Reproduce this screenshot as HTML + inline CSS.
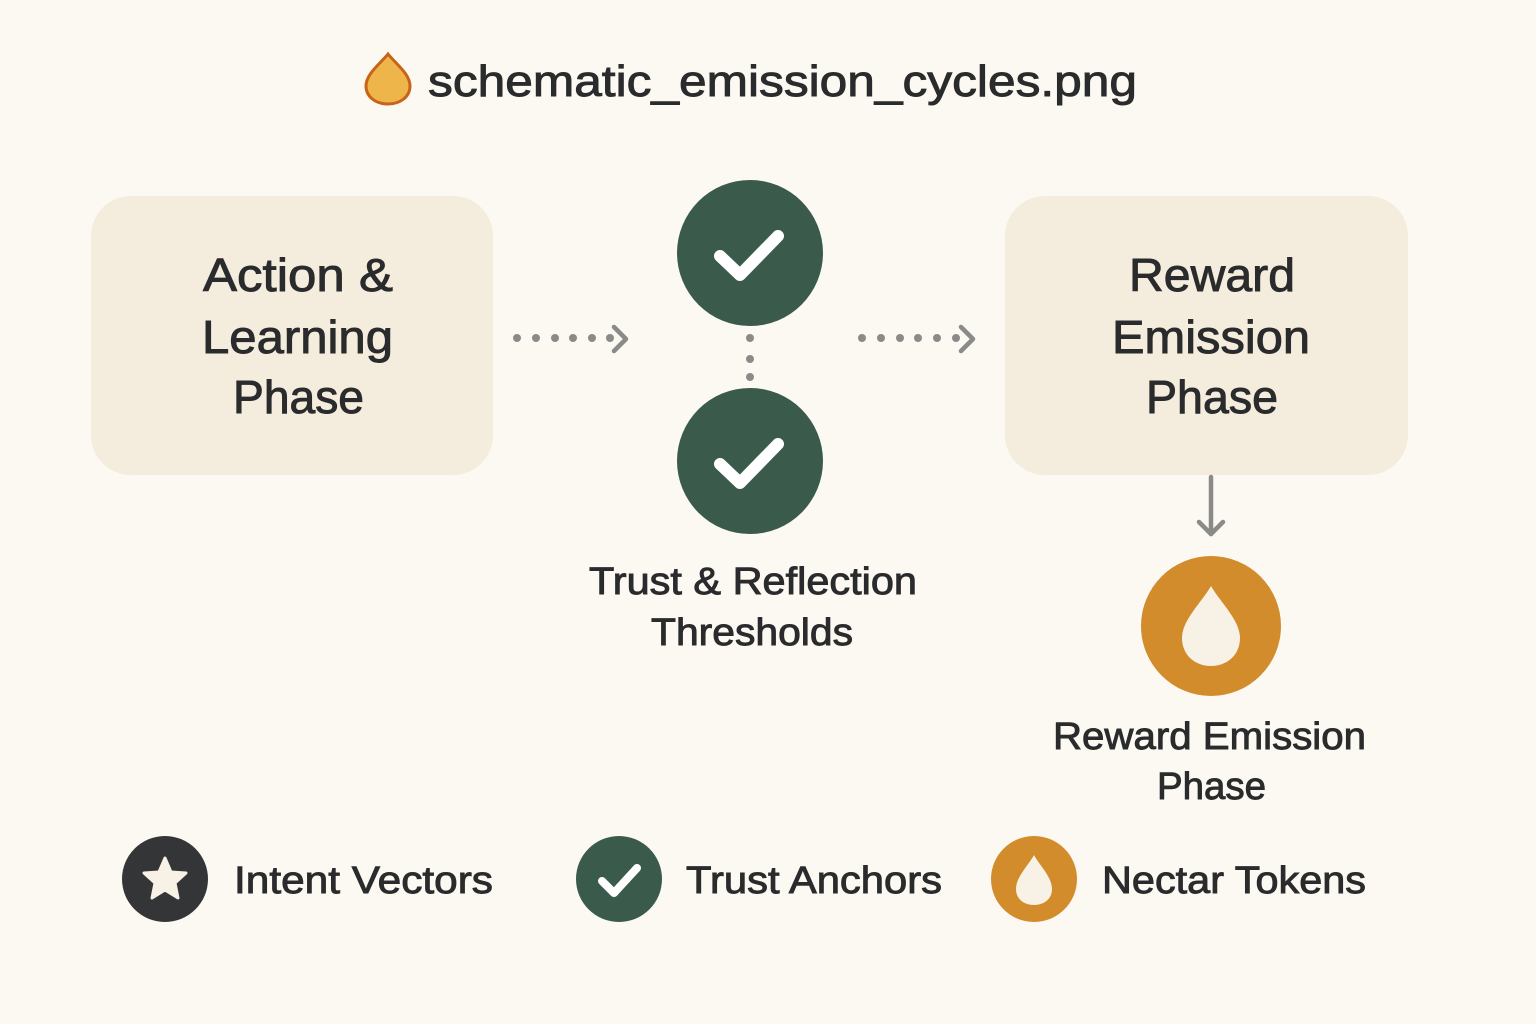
<!DOCTYPE html>
<html><head><meta charset="utf-8"><style>
body{margin:0;background:#fcf9f3;}
svg{display:block}
text{font-family:"Liberation Sans",sans-serif;fill:#2a2b2c;stroke:#2a2b2c;stroke-width:0.9px;}
</style></head><body>
<svg width="1536" height="1024" viewBox="0 0 1536 1024">
<rect width="1536" height="1024" fill="#fcf9f3"/>
<path d="M388 54 C396 64 410 74 410 86 C410 97 400 104 388 104 C376 104 366 97 366 86 C366 74 380 64 388 54Z" fill="#eeb64a" stroke="#c8631a" stroke-width="3"/>
<text x="428" y="96" font-size="44" textLength="709" lengthAdjust="spacingAndGlyphs">schematic_emission_cycles.png</text>
<rect x="91" y="196" width="402" height="279" rx="40" fill="#f4ecdd"/>
<text font-size="46" x="203" y="291" textLength="190" lengthAdjust="spacingAndGlyphs">Action &amp;</text>
<text font-size="46" x="202" y="353" textLength="191" lengthAdjust="spacingAndGlyphs">Learning</text>
<text font-size="46" x="233" y="413" textLength="131" lengthAdjust="spacingAndGlyphs">Phase</text>
<rect x="1005" y="196" width="403" height="279" rx="40" fill="#f4ecdd"/>
<text font-size="46" x="1129" y="291" textLength="166" lengthAdjust="spacingAndGlyphs">Reward</text>
<text font-size="46" x="1112" y="353" textLength="198" lengthAdjust="spacingAndGlyphs">Emission</text>
<text font-size="46" x="1146" y="413" textLength="132" lengthAdjust="spacingAndGlyphs">Phase</text>
<g fill="#8a8a88">
<circle cx="517" cy="338" r="4"/><circle cx="536" cy="338" r="4"/><circle cx="555" cy="338" r="4"/><circle cx="573" cy="338" r="4"/><circle cx="592" cy="338" r="4"/><circle cx="610" cy="338" r="4"/>
<circle cx="862" cy="338" r="4"/><circle cx="881" cy="338" r="4"/><circle cx="900" cy="338" r="4"/><circle cx="918" cy="338" r="4"/><circle cx="937" cy="338" r="4"/><circle cx="956" cy="338" r="4"/>
<circle cx="750" cy="338" r="4"/><circle cx="750" cy="359" r="4"/><circle cx="750" cy="377" r="4"/>
</g>
<g fill="none" stroke="#8a8a88" stroke-width="4.5" stroke-linecap="round" stroke-linejoin="round">
<path d="M614 327 L626 339 L614 351"/><path d="M961 327 L973 339 L961 351"/>
<path d="M1211 477 L1211 534"/><path d="M1199 522 L1211 534 L1223 522"/>
</g>
<circle cx="750" cy="253" r="73" fill="#3a5a4b"/>
<path d="M720 256 L740 275 L778 236" fill="none" stroke="#fff" stroke-width="12" stroke-linecap="round" stroke-linejoin="round"/>
<circle cx="750" cy="461" r="73" fill="#3a5a4b"/>
<path d="M720 464 L740 483 L778 444" fill="none" stroke="#fff" stroke-width="12" stroke-linecap="round" stroke-linejoin="round"/>
<text font-size="38" x="589" y="594" textLength="328" lengthAdjust="spacingAndGlyphs">Trust &amp; Reflection</text>
<text font-size="38" x="651" y="645" textLength="202" lengthAdjust="spacingAndGlyphs">Thresholds</text>
<circle cx="1211" cy="626" r="70" fill="#d28c2c"/>
<path d="M1211 586 C1220 602 1240 620 1240 638 C1240 655 1227 666 1211 666 C1195 666 1182 655 1182 638 C1182 620 1202 602 1211 586Z" fill="#f8f1e6"/>
<text font-size="38" x="1053" y="749" textLength="313" lengthAdjust="spacingAndGlyphs">Reward Emission</text>
<text font-size="38" x="1157" y="799" textLength="109" lengthAdjust="spacingAndGlyphs">Phase</text>
<circle cx="165" cy="879" r="43" fill="#343536"/>
<path d="M165 858 L171 872 L186 873 L175 883 L178 898 L165 890 L152 898 L155 883 L144 873 L159 872Z" fill="#f8f1e6" stroke="#f8f1e6" stroke-width="3" stroke-linejoin="round"/>
<text x="234" y="893" font-size="38" textLength="259" lengthAdjust="spacingAndGlyphs">Intent Vectors</text>
<circle cx="619" cy="879" r="43" fill="#3a5a4b"/>
<path d="M602 881 L614 893 L637 868" fill="none" stroke="#fff" stroke-width="8" stroke-linecap="round" stroke-linejoin="round"/>
<text x="686" y="893" font-size="38" textLength="256" lengthAdjust="spacingAndGlyphs">Trust Anchors</text>
<circle cx="1034" cy="879" r="43" fill="#d28c2c"/>
<path d="M1034 855 C1040 866 1052 877 1052 889 C1052 899 1044 905 1034 905 C1024 905 1016 899 1016 889 C1016 877 1028 866 1034 855Z" fill="#f8f1e6"/>
<text x="1102" y="893" font-size="38" textLength="264" lengthAdjust="spacingAndGlyphs">Nectar Tokens</text>
</svg>
</body></html>
